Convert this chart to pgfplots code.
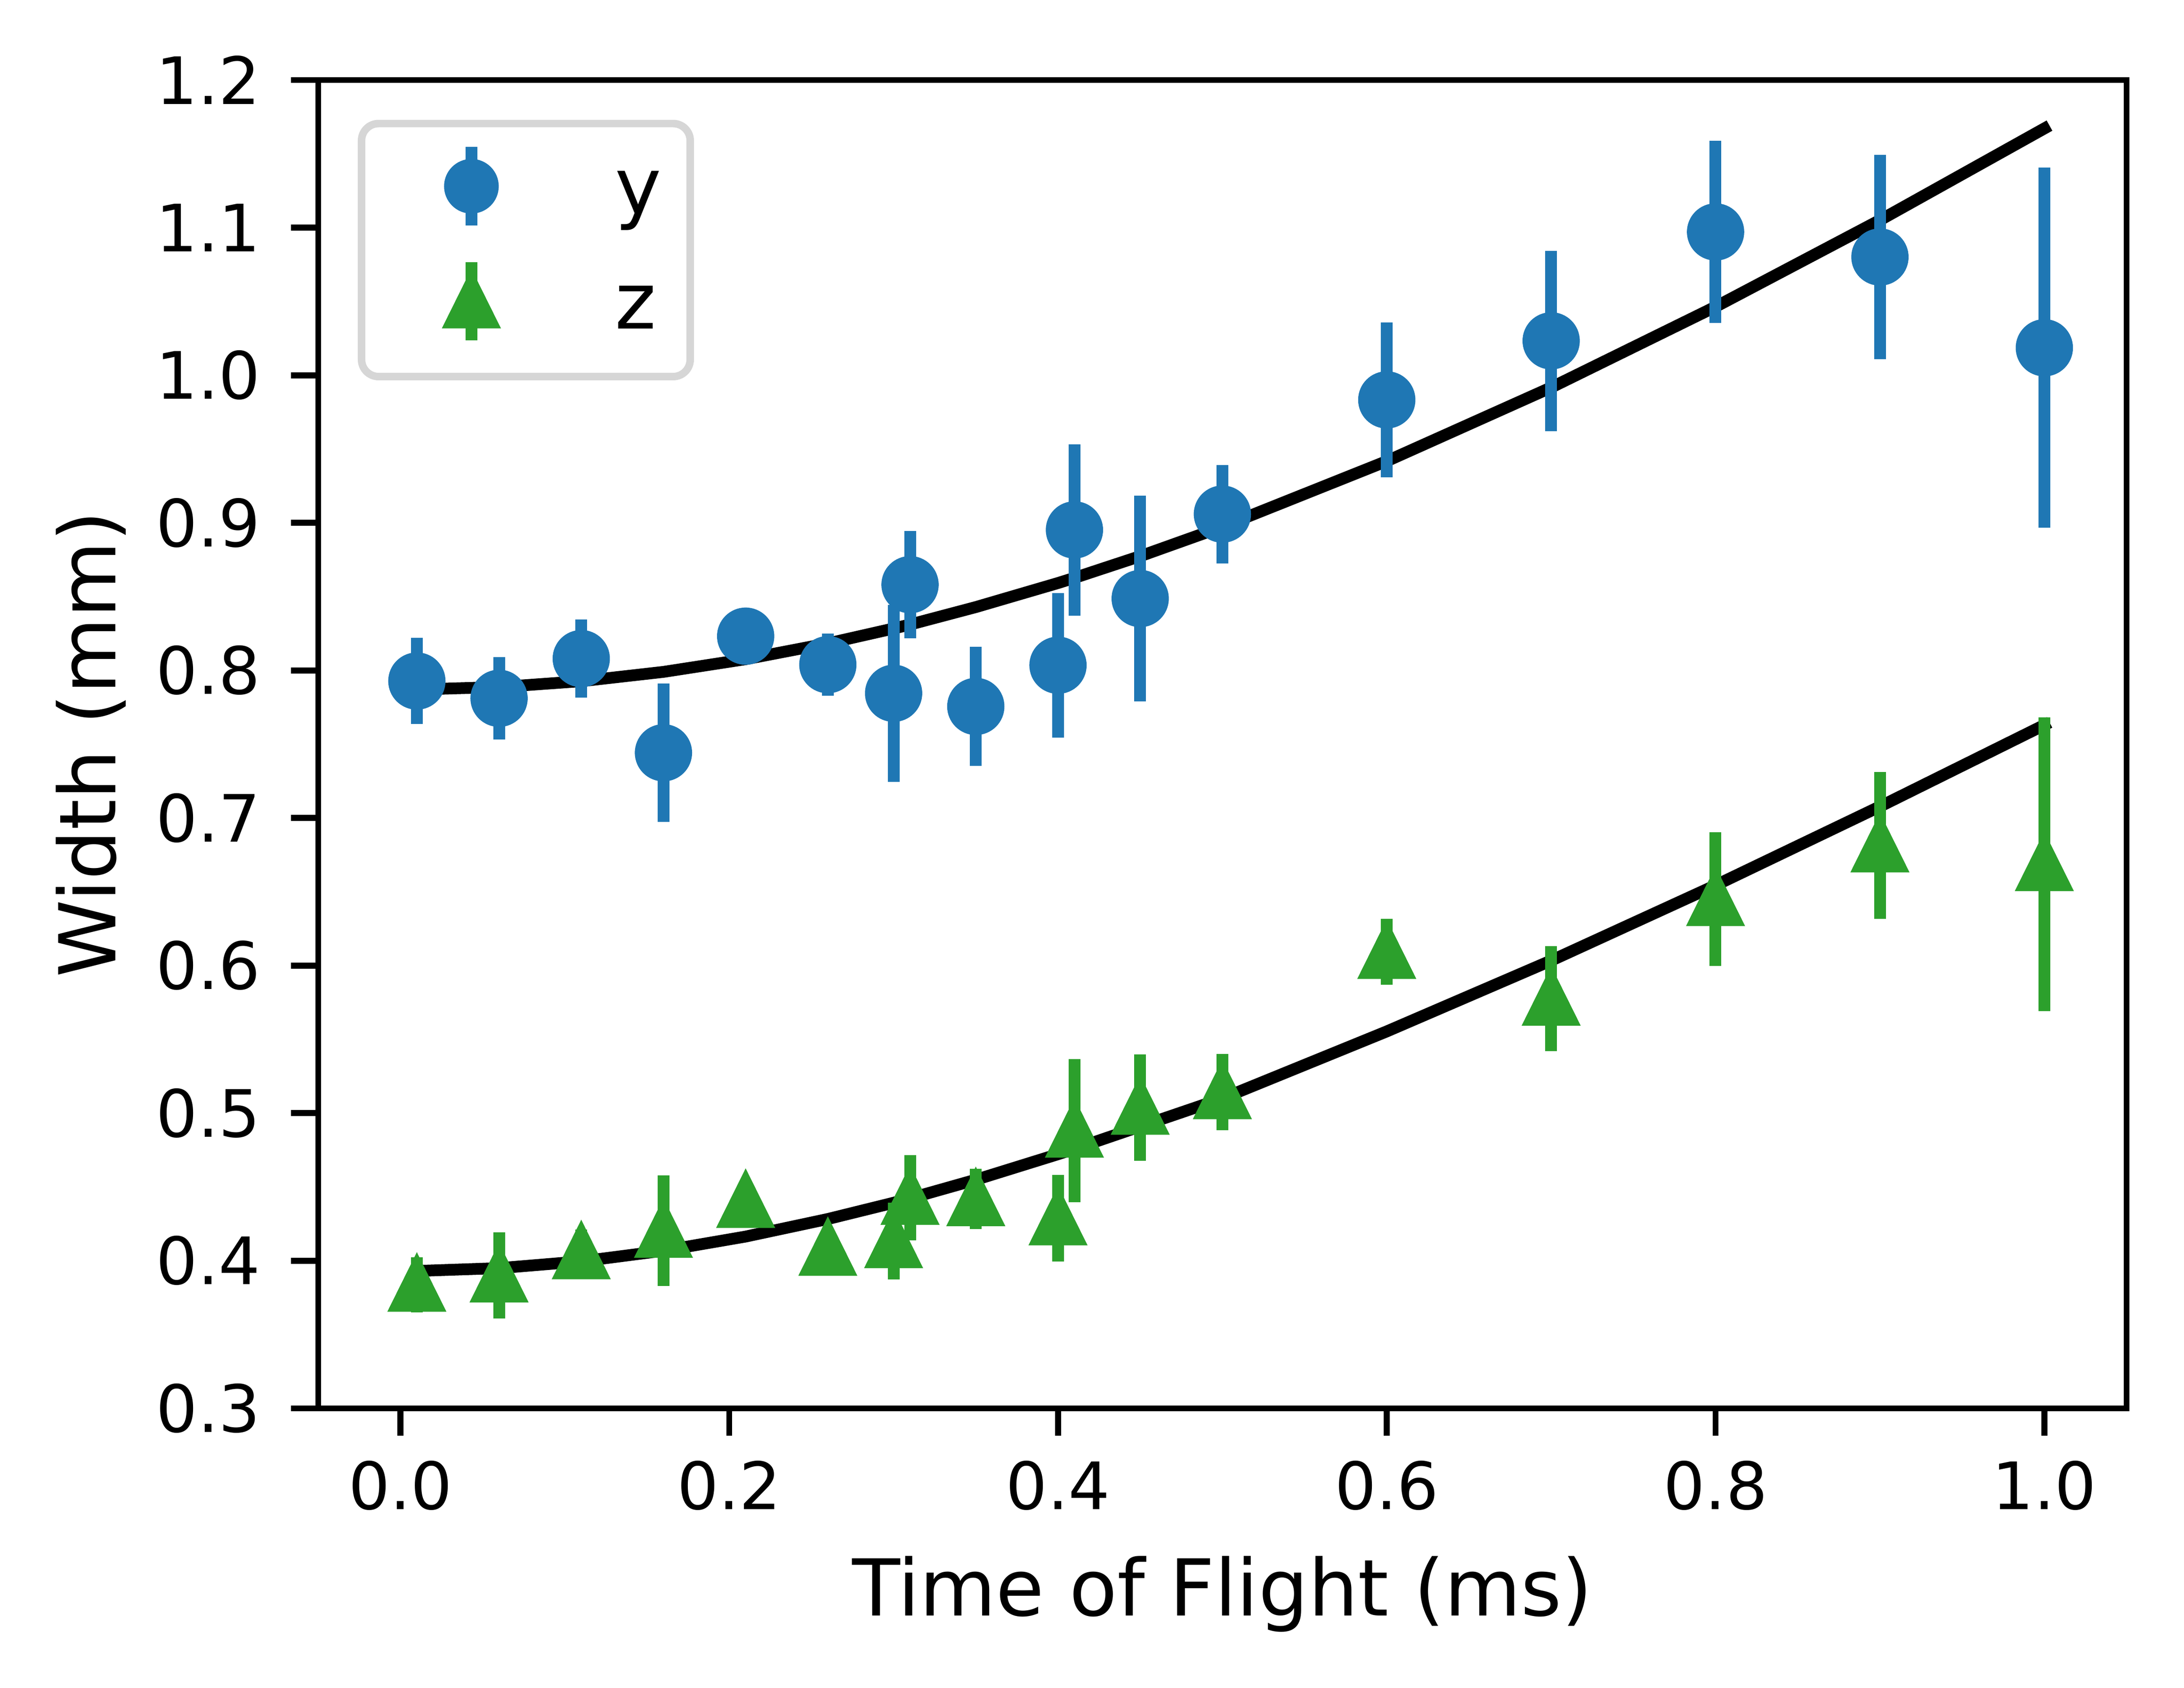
\documentclass[border=0pt]{standalone}
\usepackage{fontspec}
\setmainfont{DejaVu Sans}
\usepackage{pgfplots}
\pgfplotsset{compat=1.18}
\definecolor{c0}{HTML}{1F77B4}
\definecolor{c2}{HTML}{2CA02C}
\definecolor{lg}{HTML}{D6D6D6}
\pgfdeclareplotmark{mtri}{%
  \pgfpathmoveto{\pgfqpoint{0bp}{4.97bp}}%
  \pgfpathlineto{\pgfqpoint{-4.52bp}{-4.14bp}}%
  \pgfpathlineto{\pgfqpoint{4.52bp}{-4.14bp}}%
  \pgfpathclose\pgfusepathqfill}
\begin{document}
\begin{tikzpicture}
\begin{axis}[
  at={(0,0)}, anchor=south west,
  scale only axis, width=276.55bp, height=203.18bp,
  xmin=-0.05, xmax=1.05, ymin=0.3, ymax=1.2,
  xtick={0,0.2,0.4,0.6,0.8,1.0},
  ytick={0.3,0.4,0.5,0.6,0.7,0.8,0.9,1.0,1.1,1.2},
  minor tick num=0,
  tick pos=left, tick align=outside, major tick length=4.18bp,
  axis line style={line width=0.92bp, black},
  every tick/.style={black, line width=0.92bp},
  /pgf/number format/fixed, /pgf/number format/fixed zerofill,
  /pgf/number format/precision=1, /pgf/number format/assume math mode=true,
  tick label style={font=\fontsize{10bp}{12bp}\selectfont},
  xticklabel style={anchor=base, inner sep=0pt, yshift=-11.3bp},
  yticklabel style={anchor=east, inner sep=0pt, xshift=-4.5bp},
  xlabel={Time of Flight (ms)}, ylabel={Width (mm)},
  every axis x label/.style={at={([yshift=-31.7bp]axis description cs:0.5,0)}, anchor=base, inner sep=0pt, font=\fontsize{12bp}{14bp}\selectfont},
  every axis y label/.style={at={([xshift=-31.0bp]axis description cs:0,0.5)}, rotate=90, anchor=base, inner sep=0pt, font=\fontsize{12bp}{14bp}\selectfont},
  legend style={at={(axis description cs:0,1)}, anchor=north west,
    xshift=6.05bp, yshift=-6.08bp,
    draw=lg, line width=1.15bp, rounded corners=2.6bp, fill=white,
    inner xsep=4.36bp, inner ysep=2bp, row sep=0.5bp, column sep=10bp,
    font=\fontsize{12bp}{14bp}\selectfont,
    nodes={inner sep=0pt, anchor=base west}},
]
\addlegendimage{legend image code/.code={
  \path[draw=none, fill=none] (-12.44bp,-5.3bp) rectangle (12bp,11.8bp);
  \draw[c0, line width=1.8bp, sharp corners] (0bp,-1.79bp) -- (0bp,10.21bp);
  \fill[c0, draw=none] (0bp,4.21bp) circle[radius=4.18bp];
}}
\addlegendentry{y}
\addlegendimage{legend image code/.code={
  \path[draw=none, fill=none] (-12.44bp,-5.3bp) rectangle (12bp,11.8bp);
  \draw[c2, line width=1.8bp, sharp corners] (0bp,-1.79bp) -- (0bp,10.21bp);
  \fill[c2, draw=none, sharp corners] (0bp,9.18bp) -- (-4.52bp,0.07bp) -- (4.52bp,0.07bp) -- cycle;
}}
\addlegendentry{z}

% fit lines
\addplot[black, line width=1.8bp, line cap=rect, line join=round, mark=none, forget plot] table[x=t, y=w] {
t w
0.01 0.7871
0.06 0.7887
0.11 0.7927
0.16 0.7990
0.21 0.8076
0.26 0.8183
0.30 0.8284
0.31 0.8311
0.35 0.8429
0.40 0.8592
0.41 0.8627
0.45 0.8774
0.50 0.8973
0.60 0.9418
0.70 0.9917
0.80 1.0464
0.90 1.1051
1.00 1.1672
};
\addplot[black, line width=1.8bp, line cap=rect, line join=round, mark=none, forget plot] table[x=t, y=w] {
t w
0.01 0.3931
0.06 0.3950
0.11 0.3996
0.16 0.4068
0.21 0.4164
0.26 0.4283
0.30 0.4393
0.31 0.4423
0.35 0.4549
0.40 0.4722
0.41 0.4758
0.45 0.4910
0.50 0.5100
0.60 0.5554
0.70 0.6034
0.80 0.6544
0.90 0.7078
1.00 0.7630
};

% y data
\addplot[only marks, color=c0, mark=*, mark size=4.18bp, mark options={draw=none, fill=c0}, forget plot,
  error bars/.cd, y dir=both, y explicit, error mark=none,
  error bar style={line width=1.8bp, c0}]
  table[x=t, y=w, y error=e] {
t w e
0.01 0.7928 0.0292
0.06 0.7811 0.0278
0.11 0.8080 0.0264
0.16 0.7442 0.0468
0.21 0.8232 0.0150
0.26 0.8039 0.0209
0.30 0.7845 0.0600
0.31 0.8581 0.0363
0.35 0.7756 0.0403
0.40 0.8035 0.0489
0.41 0.8952 0.0581
0.45 0.8487 0.0696
0.50 0.9059 0.0333
0.60 0.9833 0.0526
0.70 1.0233 0.0611
0.80 1.0971 0.0618
0.90 1.0801 0.0693
1.00 1.0186 0.1220
};

% z data
\addplot[only marks, color=c2, mark=mtri, mark options={draw=none, fill=c2}, forget plot,
  error bars/.cd, y dir=both, y explicit, error mark=none,
  error bar style={line width=1.8bp, c2}]
  table[x=t, y=w, y error=e] {
t w e
0.01 0.3838 0.0187
0.06 0.3901 0.0292
0.11 0.4058 0.0155
0.16 0.4203 0.0374
0.21 0.4406 0.0100
0.26 0.4081 0.0100
0.30 0.4133 0.0260
0.31 0.4427 0.0290
0.35 0.4418 0.0204
0.40 0.4288 0.0293
0.41 0.4882 0.0485
0.45 0.5037 0.0360
0.50 0.5143 0.0258
0.60 0.6093 0.0224
0.70 0.5776 0.0356
0.80 0.6451 0.0452
0.90 0.6815 0.0498
1.00 0.6688 0.0995
};
\end{axis}
\pgfresetboundingbox
\path[use as bounding box] (-48.67bp,-42.77bp) rectangle (285.34bp,215.42bp);
\end{tikzpicture}
\end{document}
